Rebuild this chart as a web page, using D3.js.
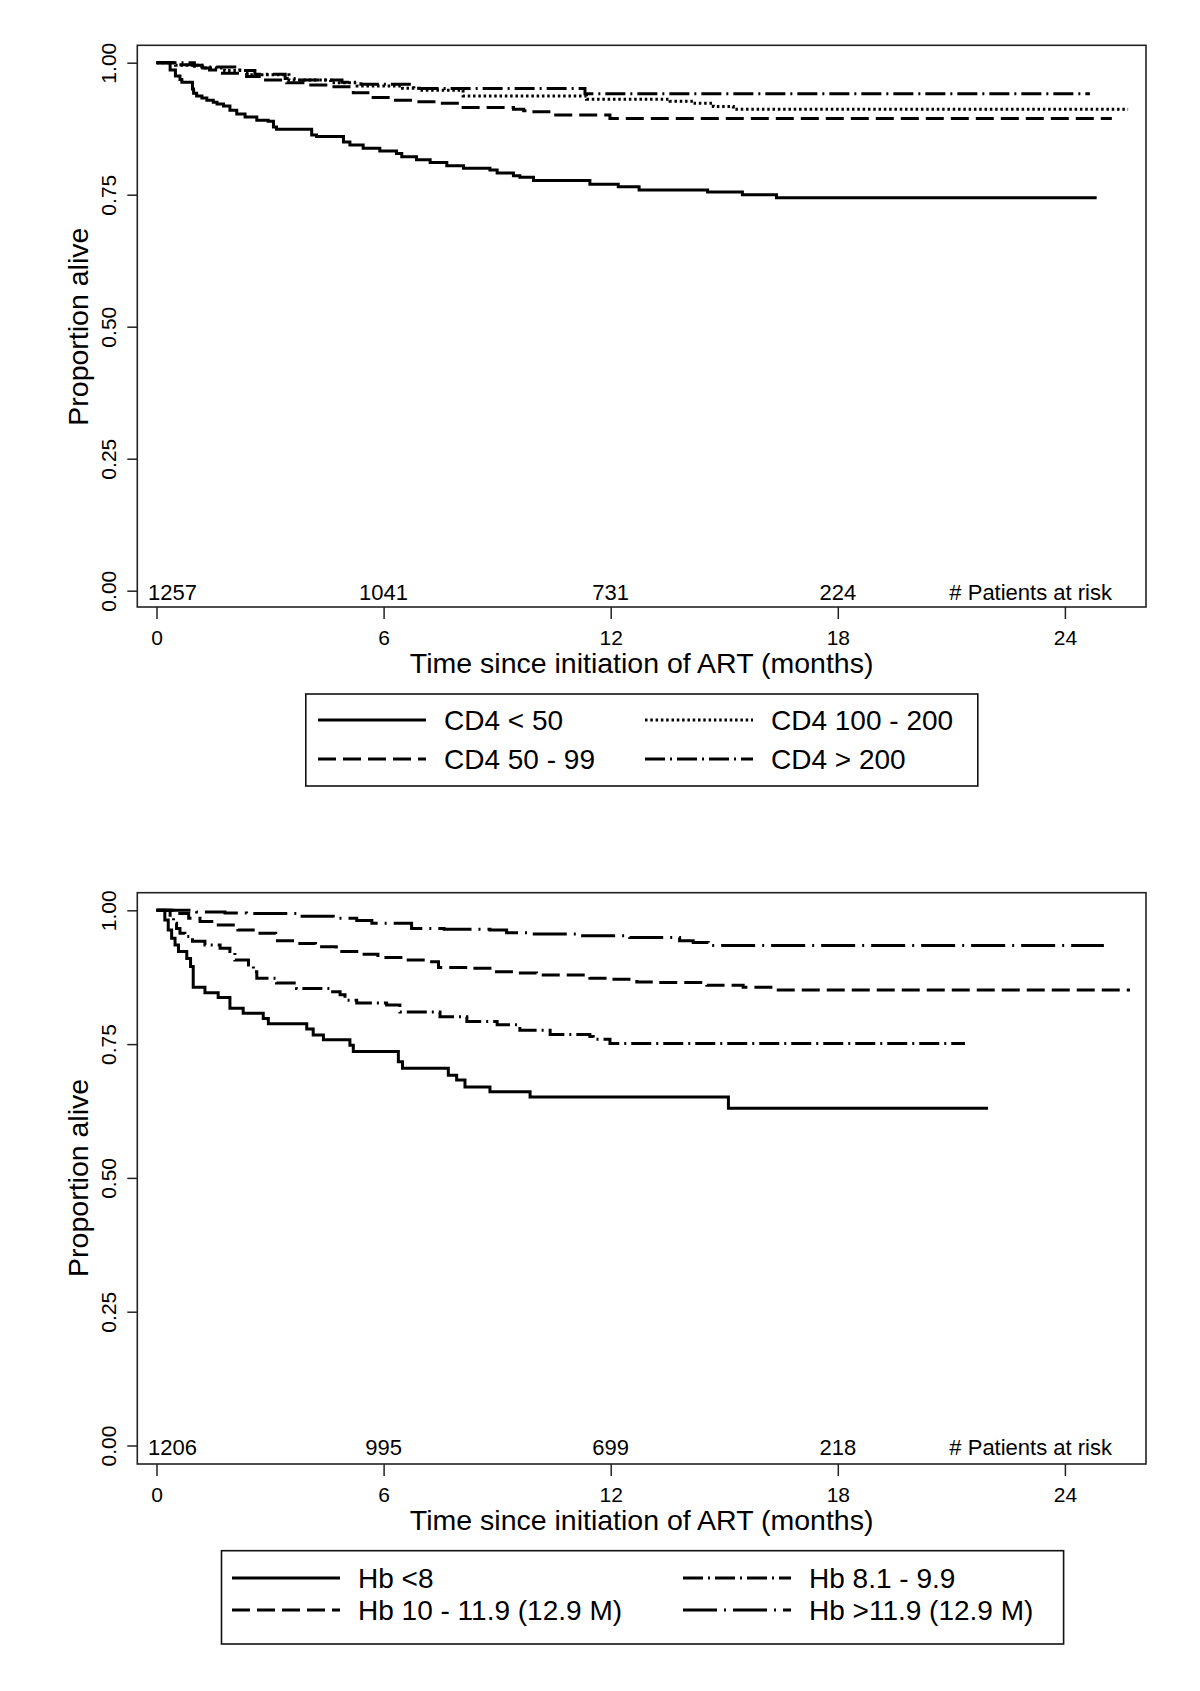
<!DOCTYPE html>
<html><head><meta charset="utf-8">
<script src="https://cdn.jsdelivr.net/npm/d3@7"></script>
<style>
body{margin:0;background:#fff}
svg text{font-family:"Liberation Sans",Arial,sans-serif;fill:#000}
</style>
</head><body>
<svg id="chart" width="1200" height="1691"></svg>
<script>
// ---------------- data ----------------
const xTicks = [0, 6, 12, 18, 24];
const yTicks = [0, 0.25, 0.5, 0.75, 1];
const xTitle = "Time since initiation of ART (months)";
const yTitle = "Proportion alive";
const riskHeader = "# Patients at risk";
const riskTimes = [0, 6, 12, 18];
const riskTop = [1257, 1041, 731, 224];
const riskBottom = [1206, 995, 699, 218];

const cd4Labels = ["CD4 < 50", "CD4 50 - 99", "CD4 100 - 200", "CD4 > 200"];
const hbLabels = ["Hb <8", "Hb 10 - 11.9 (12.9 M)", "Hb 8.1 - 9.9", "Hb >11.9 (12.9 M)"];

// CD4 < 50
const cd4a_t = [0,0.36,0.5,0.62,0.67,0.95,0.98,1.06,1.2,1.33,1.5,1.6,1.77,1.94,2.12,2.34,2.65,2.95,3.09,3.17,4.1,4.23,4.94,5.11,5.46,5.9,6.34,6.48,6.87,7.23,7.67,8.11,8.81,9.0,9.43,9.6,9.96,11.45,12.2,12.75,14.56,15.48,16.38,24.84];
const cd4a_s = [1,0.986,0.975,0.968,0.963,0.950,0.942,0.937,0.933,0.929,0.925,0.922,0.918,0.910,0.903,0.897,0.891,0.889,0.878,0.874,0.863,0.860,0.850,0.844,0.838,0.833,0.828,0.822,0.816,0.811,0.805,0.800,0.797,0.791,0.786,0.783,0.777,0.770,0.765,0.759,0.755,0.750,0.744,0.744];
// CD4 50 - 99
const cd4b_t = [0,0.6,1.0,1.4,1.68,2.38,2.82,3.44,3.97,4.58,5.2,5.64,6.26,6.87,7.49,8.02,9.43,9.7,9.87,10.44,11.98,25.24];
const cd4b_s = [1,0.996,0.990,0.986,0.980,0.974,0.967,0.962,0.958,0.9545,0.943,0.934,0.929,0.926,0.923,0.915,0.912,0.909,0.907,0.901,0.8945,0.8945];
// CD4 100 - 200
const cd4c_t = [0,0.5,1.2,1.8,2.4,3.5,4.6,5.3,6.5,6.95,8.1,11.36,13.57,14.18,14.71,15.24,25.67];
const cd4c_s = [1,0.995,0.990,0.985,0.977,0.967,0.962,0.956,0.9515,0.948,0.937,0.931,0.927,0.923,0.917,0.912,0.912];
// CD4 > 200
const cd4d_t = [0,1.0,1.2,2.2,2.6,3.4,3.8,4.9,5.4,6.8,11.32,24.66];
const cd4d_s = [1,0.995,0.992,0.985,0.978,0.970,0.967,0.963,0.959,0.951,0.941,0.941];

// Hb < 8
const hba_t = [0,0.22,0.31,0.4,0.49,0.58,0.8,0.9,0.97,1.28,1.63,1.94,2.29,2.82,2.955,3.97,4.14,4.41,5.11,5.2,6.39,6.5,7.71,7.93,8.15,8.81,9.87,15.11,21.97];
const hba_s = [1,0.982,0.963,0.948,0.935,0.923,0.910,0.895,0.856,0.846,0.837,0.817,0.8075,0.798,0.788,0.778,0.767,0.758,0.748,0.736,0.717,0.705,0.692,0.683,0.670,0.661,0.651,0.630,0.630];
// Hb 10 - 11.9
const hbb_t = [0,0.5,0.85,1.15,1.55,2.15,2.6,3.15,3.65,4.2,4.75,5.35,5.85,6.5,7.2,7.45,8.35,8.9,9.5,10.04,11.45,11.98,12.69,13.2,14.54,15.5,16.38,25.72];
const hbb_s = [1,0.994,0.985,0.979,0.9725,0.963,0.957,0.943,0.938,0.932,0.923,0.918,0.912,0.907,0.904,0.893,0.8915,0.885,0.883,0.879,0.873,0.871,0.866,0.865,0.860,0.856,0.851,0.851];
// Hb 8.1 - 9.9
const hbc_t = [0,0.36,0.45,0.53,0.62,0.75,0.95,1.28,1.68,1.94,2.07,2.43,2.56,2.65,3.17,3.7,4.58,4.85,4.98,5.29,6.08,6.43,7.49,8.2,9.0,9.6,10.4,11.45,11.54,11.98,21.36];
const hbc_s = [1,0.988,0.976,0.966,0.957,0.951,0.942,0.935,0.929,0.923,0.907,0.898,0.885,0.873,0.864,0.854,0.848,0.842,0.832,0.827,0.823,0.810,0.801,0.792,0.786,0.776,0.768,0.764,0.759,0.751,0.751];
// Hb > 11.9
const hbd_t = [0,1.06,1.81,2.38,3.79,4.67,5.29,5.69,6.74,7.6,8.81,9.25,9.87,11.19,12.5,13.82,14.18,14.58,25.03];
const hbd_s = [1,0.997,0.995,0.994,0.989,0.985,0.981,0.976,0.966,0.9645,0.963,0.958,0.9557,0.9526,0.949,0.943,0.940,0.934,0.934];

// ---------------- styles ----------------
const DASH = {
  solid: null,
  dashed: "18 7",
  dotted: "2.5 2.8",
  dashdot: "20 5 2 5",
  longdashdot: "34 7 2 7"
};

const panels = [
  {
    frame: {x0: 137.3, x1: 1146, y0: 45.3, y1: 607},
    yRange: [590.7, 62.7],
    series: [
      {t: cd4a_t, s: cd4a_s, label: cd4Labels[0], dash: DASH.solid},
      {t: cd4b_t, s: cd4b_s, label: cd4Labels[1], dash: DASH.dashed},
      {t: cd4c_t, s: cd4c_s, label: cd4Labels[2], dash: DASH.dotted},
      {t: cd4d_t, s: cd4d_s, label: cd4Labels[3], dash: DASH.dashdot}
    ],
    risk: riskTop,
    legend: {x0: 305.8, y0: 694, x1: 977.8, y1: 786, cols: [318, 645], textOff: 126, rows: [720, 759]}
  },
  {
    frame: {x0: 137.3, x1: 1146, y0: 892.7, y1: 1464},
    yRange: [1445.5, 910.3],
    series: [
      {t: hba_t, s: hba_s, label: hbLabels[0], dash: DASH.solid},
      {t: hbb_t, s: hbb_s, label: hbLabels[1], dash: DASH.dashed},
      {t: hbc_t, s: hbc_s, label: hbLabels[2], dash: DASH.dashdot},
      {t: hbd_t, s: hbd_s, label: hbLabels[3], dash: DASH.longdashdot}
    ],
    risk: riskBottom,
    legend: {x0: 221.5, y0: 1550.7, x1: 1063.6, y1: 1644, cols: [232, 683], textOff: 126, rows: [1578, 1610]}
  }
];

const svg = d3.select("#chart");
svg.append("rect").attr("width", 1200).attr("height", 1691).attr("fill", "#fff");

panels.forEach(p => {
  const x = d3.scaleLinear().domain([0, 24]).range([156.5, 1064.9]);
  const y = d3.scaleLinear().domain([0, 1]).range(p.yRange);
  const g = svg.append("g");

  // curves
  const line = d3.line().curve(d3.curveStepAfter).x(d => x(d[0])).y(d => y(d[1]));
  p.series.forEach(se => {
    const pts = se.t.map((t, i) => [t, se.s[i]]);
    g.append("path")
      .attr("d", line(pts))
      .attr("fill", "none")
      .attr("stroke", "#000")
      .attr("stroke-width", 3)
      .attr("stroke-dasharray", se.dash);
  });

  // frame
  g.append("rect")
    .attr("x", p.frame.x0).attr("y", p.frame.y0)
    .attr("width", p.frame.x1 - p.frame.x0).attr("height", p.frame.y1 - p.frame.y0)
    .attr("fill", "none").attr("stroke", "#222").attr("stroke-width", 1.6);

  // y axis
  const ya = g.append("g").attr("transform", `translate(${p.frame.x0},0)`)
    .call(d3.axisLeft(y).tickValues(yTicks).tickSize(10).tickFormat(d3.format(".2f")));
  ya.select(".domain").remove();
  ya.selectAll(".tick line").attr("stroke", "#222").attr("stroke-width", 1.5);
  ya.selectAll(".tick text")
    .attr("transform", "rotate(-90)")
    .attr("x", 0).attr("y", -21.5).attr("dy", 0)
    .attr("text-anchor", "middle")
    .attr("font-size", 21);

  // x axis
  const xa = g.append("g").attr("transform", `translate(0,${p.frame.y1})`)
    .call(d3.axisBottom(x).tickValues(xTicks).tickSize(12).tickFormat(d3.format("d")));
  xa.select(".domain").remove();
  xa.selectAll(".tick line").attr("stroke", "#222").attr("stroke-width", 1.5);
  xa.selectAll(".tick text").attr("y", 37.5).attr("dy", 0).attr("font-size", 21);

  // axis titles
  g.append("text")
    .attr("x", (p.frame.x0 + p.frame.x1) / 2).attr("y", p.frame.y1 + 66)
    .attr("text-anchor", "middle").attr("font-size", 28.5).text(xTitle);
  g.append("text")
    .attr("transform", `translate(88,${(p.yRange[0] + p.yRange[1]) / 2}) rotate(-90)`)
    .attr("text-anchor", "middle").attr("font-size", 28.5).text(yTitle);

  // number at risk
  const ry = y(0) + 9.5;
  riskTimes.forEach((t, i) => {
    g.append("text")
      .attr("x", i === 0 ? x(t) - 8.5 : x(t))
      .attr("y", ry)
      .attr("text-anchor", i === 0 ? "start" : "middle")
      .attr("font-size", 22)
      .text(p.risk[i]);
  });
  g.append("text").attr("x", p.frame.x1 - 34).attr("y", ry)
    .attr("text-anchor", "end").attr("font-size", 22).text(riskHeader);

  // legend
  const L = p.legend;
  g.append("rect").attr("x", L.x0).attr("y", L.y0)
    .attr("width", L.x1 - L.x0).attr("height", L.y1 - L.y0)
    .attr("fill", "none").attr("stroke", "#111").attr("stroke-width", 1.6);
  p.series.forEach((se, i) => {
    const col = Math.floor(i / 2), row = i % 2;
    const lx = L.cols[col], ly = L.rows[row];
    g.append("line").attr("x1", lx).attr("x2", lx + 108).attr("y1", ly).attr("y2", ly)
      .attr("stroke", "#000").attr("stroke-width", 3).attr("stroke-dasharray", se.dash);
    g.append("text").attr("x", lx + L.textOff).attr("y", ly + 10)
      .attr("font-size", 28).text(se.label);
  });
});
</script>
</body></html>
